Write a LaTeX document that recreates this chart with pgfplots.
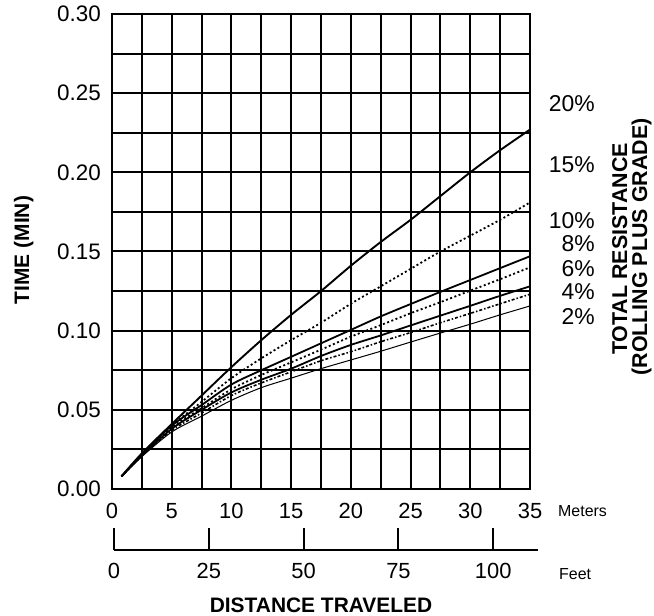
\documentclass[border=0pt]{standalone}
\usepackage{fontspec}
\setmainfont{Liberation Sans}
\usepackage{pgfplots}
\usepackage{pgfplotstable}
\pgfplotsset{compat=1.18}

\pgfplotstableread{
x    r20    r15    r10    r8     r6     r4     r2
0.8  0.008  0.008  0.008  0.008  0.008  0.008  0.008
2.5  0.0225 0.022  0.022  0.0215 0.021  0.021  0.0205
5    0.041  0.040  0.040  0.039  0.038  0.037  0.036
7.5  0.059  0.055  0.053  0.051  0.050  0.048  0.046
10   0.077  0.070  0.066  0.063  0.061  0.059  0.056
12.5 0.094  0.0825 0.075  0.072  0.069  0.067  0.064
15   0.110  0.094  0.0835 0.080  0.076  0.074  0.070
17.5 0.125  0.105  0.092  0.088  0.084  0.081  0.076
20   0.141  0.117  0.1005 0.0962 0.091  0.0867 0.0815
22.5 0.156  0.128  0.109  0.1035 0.097  0.093  0.087
25   0.170  0.139  0.1168 0.111  0.1033 0.0988 0.0928
27.5 0.185  0.150  0.1245 0.118  0.1095 0.105  0.0985
30   0.200  0.160  0.132  0.1253 0.1157 0.1109 0.1041
32.5 0.214  0.170  0.1395 0.1325 0.122  0.117  0.110
35   0.227  0.181  0.147  0.140  0.128  0.123  0.1156
}\curves

\begin{document}
\begin{tikzpicture}
\useasboundingbox (0,0) rectangle (654bp,616bp);
\begin{axis}[
  at={(112bp,127bp)}, anchor=south west,
  scale only axis, width=418bp, height=475bp,
  xmin=0, xmax=35, ymin=0, ymax=0.30,
  xtick={0,5,...,35}, xticklabels={0,5,10,15,20,25,30,35},
  minor xtick={2.5,7.5,...,32.5},
  ytick={0,0.05,...,0.30}, yticklabels={0.00,0.05,0.10,0.15,0.20,0.25,0.30},
  minor ytick={0.025,0.075,...,0.275},
  grid=both,
  major grid style={black, line width=2bp},
  minor grid style={black, line width=2bp},
  axis line style={black, line width=2bp},
  major tick length=0pt, minor tick length=0pt,
  tick align=inside,
  xticklabel style={inner sep=0pt, anchor=north, yshift=-14bp, font=\fontsize{22}{24}\selectfont},
  yticklabel style={inner sep=0pt, anchor=east, xshift=-11bp, font=\fontsize{22.5}{24}\selectfont},
]
\addplot[black, line width=1.9bp, smooth] table[x=x, y=r20] {\curves};
\addplot[black, line width=1.8bp, smooth, dash pattern=on 2bp off 2.5bp] table[x=x, y=r15] {\curves};
\addplot[black, line width=1.8bp, smooth] table[x=x, y=r10] {\curves};
\addplot[black, line width=1.8bp, smooth, dash pattern=on 2bp off 2.5bp] table[x=x, y=r8] {\curves};
\addplot[black, line width=1.8bp, smooth] table[x=x, y=r6] {\curves};
\addplot[black, line width=1.6bp, smooth, dash pattern=on 3bp off 2bp on 1.5bp off 2bp] table[x=x, y=r4] {\curves};
\addplot[black, line width=1.0bp, smooth] table[x=x, y=r2] {\curves};
\end{axis}

\begin{axis}[
  at={(114bp,66bp)}, anchor=south west,
  scale only axis, width=424bp, height=30bp,
  xmin=0, xmax=111.8, ymin=0, ymax=1,
  axis x line=bottom, axis y line=none,
  x axis line style={-, black, line width=2bp},
  xtick={0,25,50,75,100}, xticklabels={0,25,50,75,100},
  tick align=inside, major tick length=22bp,
  xtick style={black, line width=2bp},
  xticklabel style={inner sep=0pt, anchor=north, yshift=-13bp, font=\fontsize{22}{24}\selectfont},
]
\addplot[draw=none] coordinates {(0,0) (111.8,0)};
\end{axis}

\node[anchor=base, rotate=90, inner sep=0pt, font=\bfseries\fontsize{21}{24}\selectfont] at (29bp,366bp) {TIME (MIN)};
\node[anchor=base, inner sep=0pt, font=\bfseries\fontsize{21}{24}\selectfont] at (321bp,4bp) {DISTANCE TRAVELED};
\node[anchor=base, rotate=90, inner sep=0pt, font=\bfseries\fontsize{21.5}{24}\selectfont] at (627bp,367bp) {TOTAL RESISTANCE};
\node[anchor=base, rotate=90, inner sep=0pt, font=\bfseries\fontsize{21.5}{24}\selectfont] at (647bp,369bp) {(ROLLING PLUS GRADE)};
\node[anchor=west, inner sep=0pt, font=\fontsize{16}{18}\selectfont] at (558bp,105bp) {Meters};
\node[anchor=west, inner sep=0pt, font=\fontsize{16}{18}\selectfont] at (559bp,42bp) {Feet};
\begin{scope}[every node/.style={anchor=east, inner sep=0pt, font=\fontsize{23}{25}\selectfont}]
\node at (595bp,512.5bp) {20\%};
\node at (595bp,451bp) {15\%};
\node at (595bp,395bp) {10\%};
\node at (595bp,372bp) {8\%};
\node at (595bp,347bp) {6\%};
\node at (595bp,324bp) {4\%};
\node at (595bp,299bp) {2\%};
\end{scope}
\end{tikzpicture}
\end{document}
